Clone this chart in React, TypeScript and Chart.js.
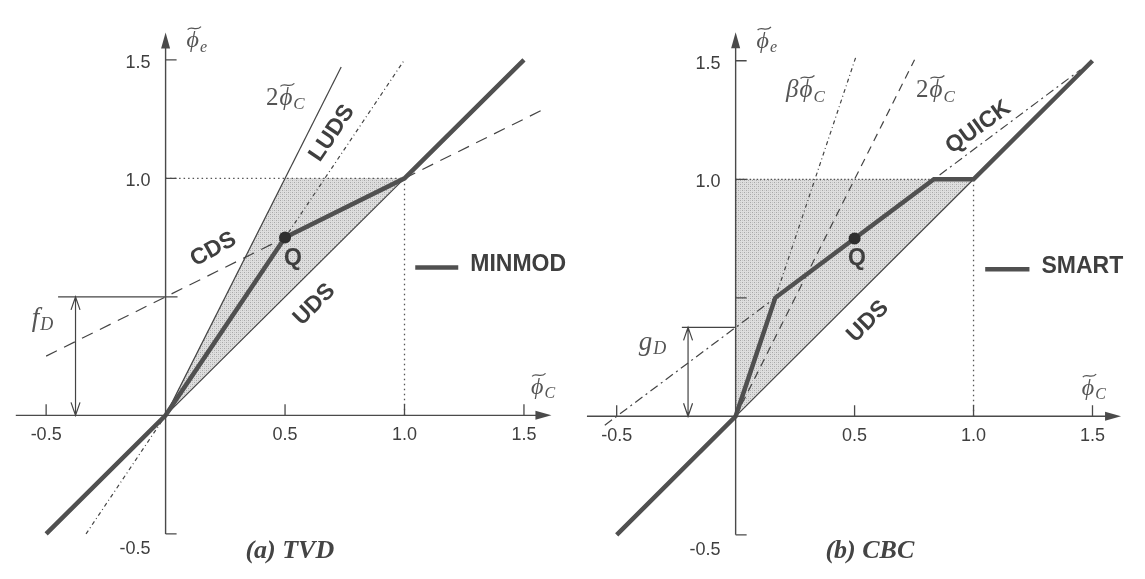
import React, { useEffect, useRef } from 'react';
import { Chart, registerables } from 'chart.js';

Chart.register(...registerables);

// ---------- shared tick data ----------
const xTickValues = [-0.5, 0.5, 1.0, 1.5];
const xTickLabels = ['-0.5', '0.5', '1.0', '1.5'];
const yTickValues = [1.5, 1.0, -0.5];
const yTickLabels = ['1.5', '1.0', '-0.5'];

// ---------- panel (a) TVD ----------
const tvdShadeX = [0, 0.5, 1, 0];
const tvdShadeY = [0, 1, 1, 0];
const minmodX = [-0.5, 0, 0.5, 1, 1.5];
const minmodY = [-0.5, 0, 0.75, 1, 1.5];
const twoPhiAX = [0, 0.735];
const twoPhiAY = [0, 1.47];
const ludsX = [-0.333, 1.0];
const ludsY = [-0.5, 1.5];
const cdsX = [-0.5, 1.6];
const cdsY = [0.25, 1.3];
const udsAX = [0, 1];
const udsAY = [0, 1];
const qA = [0.5, 0.75];
const fDValue = 0.5;
const fDLineX = [-0.45, 0.05];

// ---------- panel (b) CBC ----------
const cbcShadeX = [0, 0, 1, 0];
const cbcShadeY = [0, 1, 1, 0];
const smartX = [-0.5, 0, 1 / 6, 0.5, 5 / 6, 1, 1.5];
const smartY = [-0.5, 0, 0.5, 0.75, 1, 1, 1.5];
const betaX = [0, 0.505];
const betaY = [0, 1.515];
const twoPhiBX = [0, 0.752];
const twoPhiBY = [0, 1.504];
const quickX = [-0.55, 1.45];
const quickY = [-0.0375, 1.4625];
const udsBX = [0, 1];
const udsBY = [0, 1];
const qB = [0.5, 0.75];
const gDValue = 0.375;
const gDLineX = [-0.226, 0];

const guideTopX = [0, 1];
const guideTopY = [1, 1];
const guideVertX = [1, 1];
const guideVertY = [0, 1];

const SANS = '"Liberation Sans", Arial, Helvetica, sans-serif';
const SERIF = '"Liberation Serif", "DejaVu Serif", "Times New Roman", serif';
const INK = '#3f3f3f';
const THIN = '#444';
const THICK = '#505050';

const pts = (xs: number[], ys: number[]) => xs.map((x, i) => ({ x, y: ys[i] }));

function makePattern(): CanvasPattern | string {
  const c = document.createElement('canvas');
  c.width = 4;
  c.height = 4;
  const g = c.getContext('2d');
  if (!g) return '#d8d8d8';
  g.fillStyle = '#dedede';
  g.fillRect(0, 0, 4, 4);
  g.fillStyle = '#a8a8a8';
  g.fillRect(0, 0, 1, 1);
  g.fillRect(2, 2, 1, 1);
  g.fillStyle = '#c6c6c6';
  g.fillRect(2, 0, 1, 1);
  g.fillRect(0, 2, 1, 1);
  const p = g.createPattern(c, 'repeat');
  return p || '#d8d8d8';
}

function lineDs(xs: number[], ys: number[], color: string, width: number, dash: number[] = []) {
  return {
    data: pts(xs, ys),
    showLine: true,
    borderColor: color,
    borderWidth: width,
    borderDash: dash,
    pointRadius: 0,
    fill: false,
    tension: 0,
  };
}

type RotLabel = { text: string; x: number; y: number; angle: number };
type MathLabel = { prefix: string; sub: string; x: number; y: number; size: number };

type PanelSpec = {
  left: number;
  width: number;
  xMin: number;
  xMax: number;
  yMin: number;
  yMax: number;
  xAxis: number[];
  yAxis: number[];
  extraYTicks: number[];
  datasets: (pattern: CanvasPattern | string) => any[];
  rotLabels: RotLabel[];
  qLabel: number[];
  math: MathLabel[];
  markLabel: { text: string; sub: string; x: number; y: number };
  arrow: { x: number; from: number; to: number };
  legend: { x1: number; x2: number; y: number; text: string };
  caption: { text: string; x: number; y: number };
};

const panelA: PanelSpec = {
  left: 0,
  width: 572,
  xMin: -0.668,
  xMax: 1.676,
  yMin: -0.665,
  yMax: 1.727,
  xAxis: [-0.627, 1.615],
  yAxis: [-0.5, 1.615],
  extraYTicks: [],
  datasets: (pattern) => [
    { data: [{ x: qA[0], y: qA[1] }], showLine: false, pointRadius: 6, pointBackgroundColor: '#2e2e2e', pointBorderWidth: 0 },
    lineDs(minmodX, minmodY, THICK, 4.5),
    lineDs(fDLineX, [fDValue, fDValue], THIN, 1.2),
    lineDs(cdsX, cdsY, THIN, 1.2, [12, 8]),
    lineDs(ludsX, ludsY, THIN, 1.2, [4, 3, 1, 3]),
    lineDs(twoPhiAX, twoPhiAY, THIN, 1.2),
    lineDs(udsAX, udsAY, THIN, 1.2),
    lineDs(guideVertX, guideVertY, '#555', 1.3, [1.5, 3.5]),
    lineDs(guideTopX, guideTopY, '#555', 1.3, [1.5, 3]),
    {
      data: pts(tvdShadeX, tvdShadeY),
      showLine: true,
      borderWidth: 0,
      borderColor: 'rgba(0,0,0,0)',
      backgroundColor: pattern,
      pointRadius: 0,
      fill: 'shape',
      tension: 0,
    },
  ],
  rotLabels: [
    { text: 'LUDS', x: 0.697, y: 1.19, angle: -56 },
    { text: 'CDS', x: 0.2, y: 0.7, angle: -29 },
    { text: 'UDS', x: 0.623, y: 0.467, angle: -45 },
  ],
  qLabel: [0.533, 0.661],
  math: [
    { prefix: '', sub: 'e', x: 0.088, y: 1.553, size: 24 },
    { prefix: '', sub: 'C', x: 1.53, y: 0.09, size: 24 },
    { prefix: '2', sub: 'C', x: 0.42, y: 1.31, size: 25 },
  ],
  markLabel: { text: 'f', sub: 'D', x: -0.56, y: 0.376 },
  arrow: { x: -0.377, from: 0, to: fDValue },
  legend: { x1: 1.045, x2: 1.225, y: 0.624, text: 'MINMOD' },
  caption: { text: '(a) TVD', x: 0.52, y: -0.6 },
};

const panelB: PanelSpec = {
  left: 572,
  width: 573,
  xMin: -0.6626,
  xMax: 1.6955,
  yMin: -0.661,
  yMax: 1.731,
  xAxis: [-0.625, 1.62],
  yAxis: [-0.5, 1.62],
  extraYTicks: [0.5],
  datasets: (pattern) => [
    { data: [{ x: qB[0], y: qB[1] }], showLine: false, pointRadius: 6, pointBackgroundColor: '#2e2e2e', pointBorderWidth: 0 },
    lineDs(smartX, smartY, THICK, 4.5),
    lineDs(gDLineX, [gDValue, gDValue], THIN, 1.2),
    lineDs(quickX, quickY, THIN, 1.2, [9, 4, 2, 4]),
    lineDs(betaX, betaY, THIN, 1.2, [4, 3, 1, 3]),
    lineDs(twoPhiBX, twoPhiBY, THIN, 1.2, [8, 6]),
    lineDs(udsBX, udsBY, THIN, 1.2),
    lineDs(guideVertX, guideVertY, '#555', 1.3, [1.5, 3.5]),
    lineDs(guideTopX, guideTopY, '#555', 1.3, [1.5, 2]),
    {
      data: pts(cbcShadeX, cbcShadeY),
      showLine: true,
      borderWidth: 0,
      borderColor: 'rgba(0,0,0,0)',
      backgroundColor: pattern,
      pointRadius: 0,
      fill: 'shape',
      tension: 0,
    },
  ],
  rotLabels: [
    { text: 'QUICK', x: 1.02, y: 1.219, angle: -36 },
    { text: 'UDS', x: 0.556, y: 0.4, angle: -45 },
  ],
  qLabel: [0.51, 0.665],
  math: [
    { prefix: '', sub: 'e', x: 0.088, y: 1.555, size: 24 },
    { prefix: '', sub: 'C', x: 1.455, y: 0.091, size: 24 },
    { prefix: '\u03B2', sub: 'C', x: 0.212, y: 1.347, size: 25 },
    { prefix: '2', sub: 'C', x: 0.758, y: 1.347, size: 25 },
  ],
  markLabel: { text: 'g', sub: 'D', x: -0.407, y: 0.28 },
  arrow: { x: -0.2, from: 0, to: gDValue },
  legend: { x1: 1.049, x2: 1.235, y: 0.62, text: 'SMART' },
  caption: { text: '(b) CBC', x: 0.564, y: -0.597 },
};

function drawMath(ctx: CanvasRenderingContext2D, x: number, y: number, m: MathLabel) {
  ctx.save();
  ctx.fillStyle = '#555';
  ctx.strokeStyle = '#555';
  ctx.textAlign = 'left';
  ctx.textBaseline = 'alphabetic';
  let cx = x;
  if (m.prefix) {
    ctx.font = (m.prefix === '2' ? '' : 'italic ') + `${m.size}px ${SERIF}`;
    ctx.fillText(m.prefix, cx, y);
    cx += ctx.measureText(m.prefix).width + 1;
  }
  ctx.font = `italic ${m.size}px ${SERIF}`;
  const phi = '\u03D5';
  ctx.fillText(phi, cx, y);
  const w = ctx.measureText(phi).width;
  // wide tilde
  const ty = y - m.size * 0.8;
  const x0 = cx + 1;
  const x1 = cx + w + 2;
  ctx.lineWidth = 1.2;
  ctx.beginPath();
  ctx.moveTo(x0, ty + 1.5);
  ctx.bezierCurveTo(x0 + (x1 - x0) * 0.3, ty - 3, x0 + (x1 - x0) * 0.6, ty + 4, x1, ty - 1.5);
  ctx.stroke();
  ctx.font = `italic ${Math.round(m.size * 0.68)}px ${SERIF}`;
  ctx.fillText(m.sub, cx + w + 1, y + m.size * 0.18);
  ctx.restore();
}

function makePlugin(spec: PanelSpec) {
  return {
    id: 'diagram',
    afterDatasetsDraw(chart: any) {
      const ctx: CanvasRenderingContext2D = chart.ctx;
      const sx = chart.scales.x;
      const sy = chart.scales.y;
      const px = (v: number) => sx.getPixelForValue(v);
      const py = (v: number) => sy.getPixelForValue(v);
      const ox = px(0);
      const oy = py(0);
      ctx.save();
      // axes
      ctx.strokeStyle = '#4a4a4a';
      ctx.fillStyle = '#4a4a4a';
      ctx.lineWidth = 1.4;
      ctx.beginPath();
      ctx.moveTo(px(spec.xAxis[0]), oy);
      ctx.lineTo(px(spec.xAxis[1]) - 8, oy);
      ctx.moveTo(ox, py(spec.yAxis[0]));
      ctx.lineTo(ox, py(spec.yAxis[1]) + 8);
      ctx.stroke();
      // arrowheads
      const xe = px(spec.xAxis[1]);
      ctx.beginPath();
      ctx.moveTo(xe, oy);
      ctx.lineTo(xe - 16, oy - 4.5);
      ctx.lineTo(xe - 16, oy + 4.5);
      ctx.closePath();
      ctx.fill();
      const ye = py(spec.yAxis[1]);
      ctx.beginPath();
      ctx.moveTo(ox, ye);
      ctx.lineTo(ox - 4.5, ye + 16);
      ctx.lineTo(ox + 4.5, ye + 16);
      ctx.closePath();
      ctx.fill();
      // ticks
      ctx.lineWidth = 1.3;
      ctx.beginPath();
      xTickValues.forEach((v) => {
        ctx.moveTo(px(v), oy);
        ctx.lineTo(px(v), oy - 11);
      });
      [...yTickValues, ...spec.extraYTicks].forEach((v) => {
        ctx.moveTo(ox, py(v));
        ctx.lineTo(ox + 11, py(v));
      });
      ctx.stroke();
      // tick labels
      ctx.fillStyle = INK;
      ctx.font = `18px ${SANS}`;
      ctx.textBaseline = 'middle';
      ctx.textAlign = 'center';
      xTickValues.forEach((v, i) => ctx.fillText(xTickLabels[i], px(v), oy + 20));
      ctx.textAlign = 'right';
      yTickValues.forEach((v, i) => ctx.fillText(yTickLabels[i], ox - 15, py(v) + (v < 0 ? 15 : 3)));

      // double-headed measurement arrow
      const ax = px(spec.arrow.x);
      const a0 = py(spec.arrow.from);
      const a1 = py(spec.arrow.to);
      ctx.strokeStyle = '#444';
      ctx.lineWidth = 1.2;
      ctx.beginPath();
      ctx.moveTo(ax, a0);
      ctx.lineTo(ax, a1);
      ctx.moveTo(ax - 4.5, a1 + 13);
      ctx.lineTo(ax, a1);
      ctx.lineTo(ax + 4.5, a1 + 13);
      ctx.moveTo(ax - 4.5, a0 - 13);
      ctx.lineTo(ax, a0);
      ctx.lineTo(ax + 4.5, a0 - 13);
      ctx.stroke();

      // f_D / g_D label
      ctx.fillStyle = '#555';
      ctx.textAlign = 'left';
      ctx.textBaseline = 'alphabetic';
      ctx.font = `italic 27px ${SERIF}`;
      const mlx = px(spec.markLabel.x);
      const mly = py(spec.markLabel.y);
      ctx.fillText(spec.markLabel.text, mlx, mly);
      const mw = ctx.measureText(spec.markLabel.text).width;
      ctx.font = `italic 18px ${SERIF}`;
      ctx.fillText(spec.markLabel.sub, mlx + mw + 1, mly + 4);

      // math labels
      spec.math.forEach((m) => drawMath(ctx, px(m.x), py(m.y), m));

      // rotated bold labels
      ctx.fillStyle = INK;
      ctx.font = `bold 23px ${SANS}`;
      ctx.textAlign = 'center';
      ctx.textBaseline = 'middle';
      spec.rotLabels.forEach((r) => {
        ctx.save();
        ctx.translate(px(r.x), py(r.y));
        ctx.rotate((r.angle * Math.PI) / 180);
        ctx.fillText(r.text, 0, 0);
        ctx.restore();
      });
      ctx.fillText('Q', px(spec.qLabel[0]), py(spec.qLabel[1]));

      // legend
      ctx.strokeStyle = THICK;
      ctx.lineWidth = 4.5;
      ctx.beginPath();
      ctx.moveTo(px(spec.legend.x1), py(spec.legend.y));
      ctx.lineTo(px(spec.legend.x2), py(spec.legend.y));
      ctx.stroke();
      ctx.textAlign = 'left';
      ctx.fillText(spec.legend.text, px(spec.legend.x2) + 12, py(spec.legend.y) - 3);

      // caption
      ctx.fillStyle = '#444';
      ctx.font = `italic bold 26px ${SERIF}`;
      ctx.textAlign = 'center';
      ctx.textBaseline = 'alphabetic';
      ctx.fillText(spec.caption.text, px(spec.caption.x), py(spec.caption.y));
      ctx.restore();
    },
  };
}

function Panel({ spec }: { spec: PanelSpec }) {
  const ref = useRef<HTMLCanvasElement>(null);
  useEffect(() => {
    const canvas = ref.current;
    if (!canvas) return;
    const pattern = makePattern();
    const chart = new Chart(canvas, {
      type: 'scatter',
      data: { datasets: spec.datasets(pattern) },
      options: {
        responsive: false,
        animation: false,
        events: [],
        layout: { padding: 0 },
        plugins: { legend: { display: false }, tooltip: { enabled: false } },
        scales: {
          x: { type: 'linear', min: spec.xMin, max: spec.xMax, display: false },
          y: { type: 'linear', min: spec.yMin, max: spec.yMax, display: false },
        },
      },
      plugins: [makePlugin(spec)],
    } as any);
    return () => chart.destroy();
  }, [spec]);
  return (
    <canvas
      ref={ref}
      width={spec.width}
      height={579}
      style={{ position: 'absolute', left: spec.left, top: 0, width: spec.width, height: 579 }}
    />
  );
}

export default function App() {
  return (
    <div style={{ position: 'absolute', left: 0, top: 0, width: 1145, height: 579, background: '#fff' }}>
      <Panel spec={panelA} />
      <Panel spec={panelB} />
    </div>
  );
}
